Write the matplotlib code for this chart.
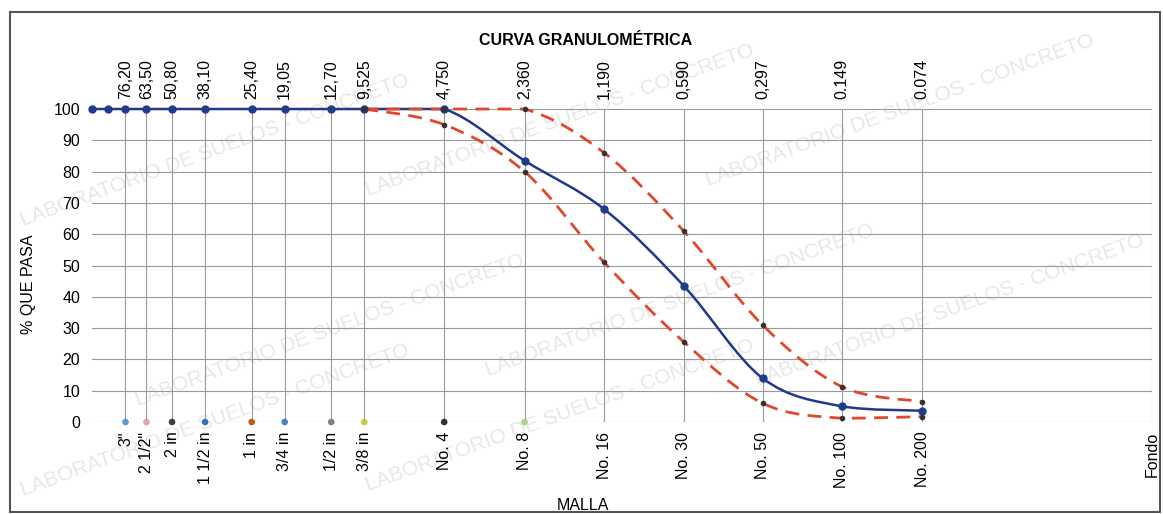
import numpy as np
import matplotlib
matplotlib.use("Agg")
import matplotlib.pyplot as plt
from matplotlib.path import Path
from matplotlib.patches import PathPatch, Rectangle
from matplotlib.ticker import NullLocator

plt.rcParams['font.family'] = ['Liberation Sans', 'DejaVu Sans']

# sieve openings (mm) and labels
sieve_mm = [76.2, 63.5, 50.8, 38.1, 25.4, 19.05, 12.7, 9.525, 4.75, 2.36, 1.18, 0.59, 0.297, 0.149, 0.074]
top_labels = ["76,20", "63,50", "50,80", "38,10", "25,40", "19,05", "12,70", "9,525",
              "4,750", "2,360", "1,190", "0,590", "0,297", "0.149", "0.074"]
bottom_labels = ['3"', '2 1/2"', '2 in', '1 1/2 in', '1 in', '3/4 in', '1/2 in', '3/8 in',
                 'No. 4', 'No. 8', 'No. 16', 'No. 30', 'No. 50', 'No. 100', 'No. 200', 'Fondo']
fondo_mm = 0.01

# sample curve (% passing)
sample_mm = [101.6, 88.9, 76.2, 63.5, 50.8, 38.1, 25.4, 19.05, 12.7, 9.525,
             4.75, 2.36, 1.18, 0.59, 0.297, 0.149, 0.074]
sample_pass = [100, 100, 100, 100, 100, 100, 100, 100, 100, 100,
               100, 83.5, 68, 43.5, 14, 5, 3.6]

# specification limits
spec_mm = [9.525, 4.75, 2.36, 1.18, 0.59, 0.297, 0.149, 0.074]
upper_pass = [100, 100, 100, 86, 61, 31, 11.3, 6.5]
lower_pass = [100, 95, 80, 51, 25.6, 6, 1.2, 1.7]

# marker colours at the foot of each sieve line
foot_colors = ['#5b9bd5', '#e8a0a8', '#404040', '#2e75b6', '#c55a11', '#4a7fc1', '#808080', '#c9c94a',
               '#303030', '#a9d18e']

XS, YS = 264.4, 3.13  # approx px per decade / per %


def smooth_path(xs, ys):
    # excel-like smoothed line, control points kept inside each segment's y range
    u = -np.log10(np.asarray(xs, float)) * XS
    v = np.asarray(ys, float) * YS
    P = np.column_stack([u, v])
    n = len(P)
    verts = [P[0]]
    codes = [Path.MOVETO]
    for i in range(n - 1):
        p0 = P[max(i - 1, 0)]
        p1 = P[i]
        p2 = P[i + 1]
        p3 = P[min(i + 2, n - 1)]
        c1 = p1 + (p2 - p0) / 6
        c2 = p2 - (p3 - p1) / 6
        lo, hi = min(p1[1], p2[1]), max(p1[1], p2[1])
        c1[1] = np.clip(c1[1], lo, hi)
        c2[1] = np.clip(c2[1], lo, hi)
        verts += [c1, c2, p2]
        codes += [Path.CURVE4] * 3
    verts = np.array(verts)
    verts = np.column_stack([10 ** (-verts[:, 0] / XS), verts[:, 1] / YS])
    return Path(verts, codes)


fig = plt.figure(figsize=(11.63, 5.14), dpi=100)
W, H = 1163, 514
ax = fig.add_axes([92 / W, 1 - 422 / H, 1060 / W, 313 / H])
ax.set_facecolor('none')

# faint watermark, behind the axes
wm = "LABORATORIO DE SUELOS - CONCRETO"
for cx, cy in [(215, 150), (560, 120), (900, 110), (330, 330), (680, 300), (950, 310),
               (215, 420), (560, 415)]:
    fig.text(cx / W, 1 - cy / H, wm, rotation=20, rotation_mode='anchor', fontsize=15,
             color='#e8e8e8', ha='center', va='center', zorder=-1)

ax.set_xscale('log')
ax.set_xlim(102, fondo_mm)
ax.set_ylim(0, 100)

ticks = sieve_mm + [fondo_mm]
ax.set_xticks(ticks, bottom_labels, rotation=90, va='top')
ax.xaxis.set_minor_locator(NullLocator())
ax.set_yticks(range(0, 101, 10))
ax.tick_params(axis='both', length=0, labelsize=11.5)
ax.tick_params(axis='x', pad=7)
ax.tick_params(axis='y', pad=8.5)
ax.grid(True, color='#9a9a9a', lw=0.8)
for s in ax.spines.values():
    s.set_visible(False)

sec = ax.secondary_xaxis('top')
sec.set_xticks(sieve_mm, top_labels, rotation=90, va='bottom')
sec.xaxis.set_minor_locator(NullLocator())
sec.tick_params(length=0, labelsize=11.5, pad=7)
for s in sec.spines.values():
    s.set_visible(False)

# main curve
ax.add_patch(PathPatch(smooth_path(sample_mm, sample_pass), fill=False, ec='#22398a',
                       lw=1.8, zorder=3, clip_on=False))
ax.plot(sample_mm, sample_pass, 'o', color='#1f3c88', ms=5, zorder=5, clip_on=False)

# specification band
for ys in (upper_pass, lower_pass):
    ax.add_patch(PathPatch(smooth_path(spec_mm, ys), fill=False, ec='#e0482e',
                           lw=2, ls=(0, (5, 3)), zorder=4, clip_on=False))
    ax.plot(spec_mm, ys, 'o', color='#333333', ms=3, zorder=6, clip_on=False)

# markers at the foot of the sieve lines
ax.scatter(sieve_mm[:len(foot_colors)], [0] * len(foot_colors), c=foot_colors, s=14,
           zorder=5, clip_on=False)

fig.text(586 / W, 1 - 41 / H, "CURVA GRANULOMÉTRICA", ha='center', va='center',
         fontsize=11.5, fontweight='bold')
fig.text(28 / W, 1 - 284 / H, "% QUE PASA", rotation=90, ha='center', va='center', fontsize=11.5)
fig.text(583 / W, 1 - 505 / H, "MALLA", ha='center', va='center', fontsize=11.5)

fig.add_artist(Rectangle((10 / W, 0.003), 1150 / W, 1 - 12 / H - 0.003, transform=fig.transFigure,
                         fill=False, ec='#555555', lw=1.5))

fig.savefig("out.png", dpi=100)
